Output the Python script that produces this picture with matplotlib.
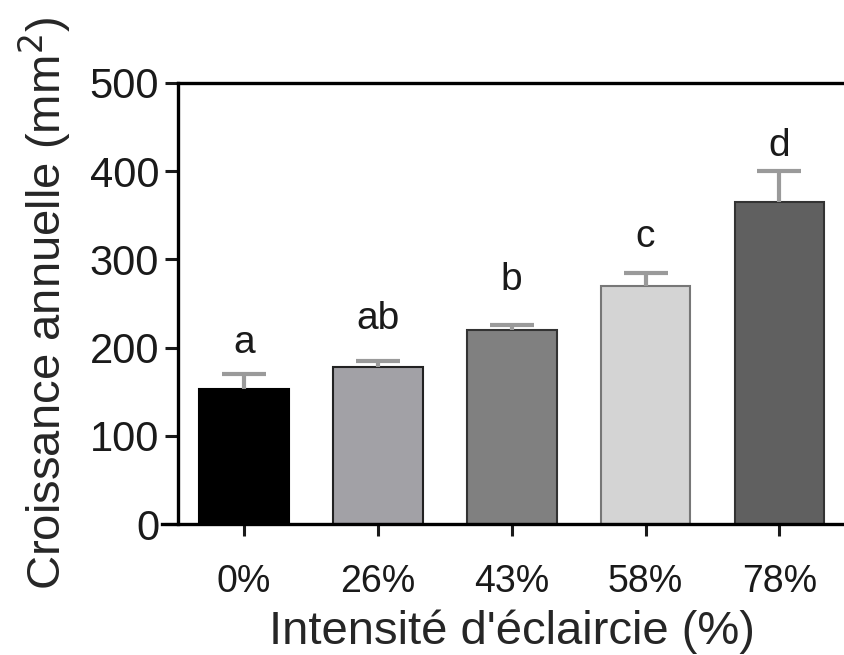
import matplotlib
matplotlib.use("Agg")
import matplotlib.pyplot as plt

# Data
categories = ["0%", "26%", "43%", "58%", "78%"]
growth_mean = [153, 178, 220, 270, 365]
growth_err = [17, 7, 6, 15, 35]
group_letters = ["a", "ab", "b", "c", "d"]

plt.rcParams["font.family"] = ["Liberation Sans", "DejaVu Sans"]

fill_colors = ["#000000", "#a2a1a6", "#808080", "#d4d4d4", "#606060"]
edge_colors = ["#000000", "#222222", "#333333", "#777777", "#333333"]

fig = plt.figure(figsize=(8.45, 6.55), dpi=100)
ax = fig.add_axes([178 / 845, 1 - 524 / 655, 1 - 178 / 845, (524 - 83) / 655])

x = list(range(len(categories)))
ax.bar(x, growth_mean, width=0.67, color=fill_colors, edgecolor=edge_colors,
       linewidth=1.5, zorder=2)
_, caps, _ = ax.errorbar(x, growth_mean, yerr=[[0] * len(x), growth_err],
                         fmt="none", ecolor="#9a9a9a", elinewidth=3,
                         capsize=16, capthick=3, zorder=3)
# upper-only error bars: hide the cap at the bar top
caps[0].set_visible(False)

# Significance letters above each error bar
letter_gap = [9.5, 17, 19, 13, 5]
for xi, m, e, lab, g in zip(x, growth_mean, growth_err, group_letters, letter_gap):
    ax.annotate(lab, (xi, m + e), xytext=(0, g), textcoords="offset points",
                ha="center", va="bottom", fontsize=28, color="#1a1a1a")

ax.set_xlim(-0.493, 4.49)
ax.set_ylim(0, 500)
ax.set_yticks([0, 100, 200, 300, 400, 500])
ax.set_xticks(x)
ax.set_xticklabels(categories)

ax.tick_params(axis="y", direction="out", length=9.5, width=2.2,
               labelsize=30, pad=4, colors="#1a1a1a")
ax.tick_params(axis="x", direction="out", length=8.5, width=2.2,
               labelsize=27, pad=20, colors="#1a1a1a")

for side in ["left", "bottom", "top"]:
    ax.spines[side].set_linewidth(2.4)
    ax.spines[side].set_color("#000000")
ax.spines["right"].set_linewidth(1.2)
ax.spines["right"].set_color("#aaaaaa")
ax.spines["bottom"].set_bounds(-0.493 - 16 / 134, 4.49)
ax.spines["bottom"].set_clip_on(False)

ax.set_ylabel("Croissance annuelle (mm$^{2}$)", fontsize=34, color="#262626",
              labelpad=12)
ax.set_xlabel("Intensité d'éclaircie (%)", fontsize=34, color="#262626",
              labelpad=7)

fig.savefig("out.png", dpi=100)
